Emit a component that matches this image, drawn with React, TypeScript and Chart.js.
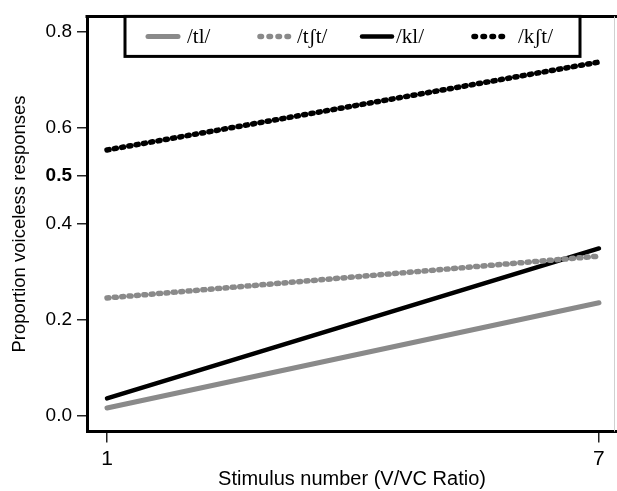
import { useEffect, useRef } from "react";
import { Chart, registerables } from "chart.js";

Chart.register(...registerables);

// ---- data ----
const stimuli = [1, 7];
const seriesNames = ["/tl/", "/tʃt/", "/kl/", "/kʃt/"];
const tlValues = [0.017, 0.236];
const tshtValues = [0.246, 0.333];
const klValues = [0.037, 0.349];
const kshtValues = [0.554, 0.737];
const yTickValues = [0, 0.2, 0.4, 0.5, 0.6, 0.8];
const xTickValues = [1, 7];
const boldTick = 0.5;

const GREY = "#8a8a8a";
const SANS = "'Liberation Sans', Arial, sans-serif";
const SERIF = "'Liberation Serif', 'DejaVu Serif', serif";

const seriesStyles = [
  { color: GREY, dash: [] as number[], width: 5 },
  { color: GREY, dash: [2, 5.4], width: 5.5 },
  { color: "#000", dash: [] as number[], width: 4.5 },
  { color: "#000", dash: [2, 5.4], width: 5.5 },
];
const seriesValues = [tlValues, tshtValues, klValues, kshtValues];

const framePlugin = {
  id: "frameAndLegend",
  afterDatasetsDraw(chart: any) {
    const { ctx, chartArea } = chart;
    ctx.save();
    // top border of the box
    ctx.strokeStyle = "#000";
    ctx.lineWidth = 3;
    ctx.beginPath();
    ctx.moveTo(chartArea.left - 1.5, chartArea.top);
    ctx.lineTo(chart.width, chartArea.top);
    ctx.stroke();
    // faint right edge
    ctx.strokeStyle = "#d0d0d0";
    ctx.lineWidth = 1;
    ctx.beginPath();
    ctx.moveTo(614.5, chartArea.top);
    ctx.lineTo(614.5, chartArea.bottom);
    ctx.stroke();

    // legend box
    const lx = 125, ly = chartArea.top, lw = 455, lh = 40;
    ctx.fillStyle = "#fff";
    ctx.fillRect(lx, ly, lw, lh);
    ctx.strokeStyle = "#000";
    ctx.lineWidth = 3;
    ctx.strokeRect(lx, ly, lw, lh);

    const sampleStarts = [146, 258, 360, 472];
    const textStarts = [187, 297, 396, 518];
    const sampleLen = 34;
    const cy = ly + lh / 2;
    ctx.font = `21px ${SERIF}`;
    ctx.textBaseline = "middle";
    ctx.textAlign = "left";
    seriesNames.forEach((name, i) => {
      const st = seriesStyles[i];
      ctx.strokeStyle = st.color;
      ctx.lineWidth = st.width;
      ctx.lineCap = "round";
      ctx.setLineDash(st.dash.length ? [1.5, 7.5] : []);
      ctx.beginPath();
      ctx.moveTo(sampleStarts[i] + 2, cy);
      ctx.lineTo(sampleStarts[i] + sampleLen - 2, cy);
      ctx.stroke();
      ctx.setLineDash([]);
      ctx.fillStyle = "#000";
      ctx.fillText(name, textStarts[i], cy + 1);
    });
    ctx.restore();
  },
};

export default function App() {
  const ref = useRef<HTMLCanvasElement | null>(null);

  useEffect(() => {
    if (!ref.current) return;
    const chart = new Chart(ref.current, {
      type: "line",
      data: {
        datasets: seriesNames.map((name, i) => ({
          label: name,
          data: stimuli.map((s, j) => ({ x: s, y: seriesValues[i][j] })),
          borderColor: seriesStyles[i].color,
          borderWidth: seriesStyles[i].width,
          borderDash: seriesStyles[i].dash,
          borderCapStyle: "round" as const,
          pointRadius: 0,
          fill: false,
          tension: 0,
        })),
      },
      options: {
        animation: false,
        responsive: false,
        maintainAspectRatio: false,
        layout: { padding: { top: 13.5, left: 0, right: 0, bottom: 0 } },
        plugins: { legend: { display: false }, tooltip: { enabled: false } },
        scales: {
          x: {
            type: "linear",
            min: 0.756,
            max: 7.22,
            afterBuildTicks: (scale: any) => {
              scale.ticks = xTickValues.map((v) => ({ value: v }));
            },
            afterFit: (scale: any) => {
              scale.height = 59.5;
            },
            grid: {
              drawOnChartArea: false,
              drawTicks: true,
              tickLength: 11,
              tickColor: "#222",
              lineWidth: 1.5,
            },
            border: { display: true, color: "#000", width: 3 },
            ticks: {
              color: "#000",
              font: { family: SANS, size: 21 },
              padding: 4,
              maxRotation: 0,
              callback: (v: any) => String(v),
            },
            title: {
              display: true,
              text: "Stimulus number (V/VC Ratio)",
              color: "#000",
              font: { family: SANS, size: 20 },
              padding: { top: 0, bottom: 0 },
            },
          },
          y: {
            type: "linear",
            min: -0.032,
            max: 0.832,
            afterBuildTicks: (scale: any) => {
              scale.ticks = yTickValues.map((v) => ({ value: v }));
            },
            afterFit: (scale: any) => {
              scale.width = 87;
            },
            grid: {
              drawOnChartArea: false,
              drawTicks: true,
              tickLength: 10,
              tickColor: "#222",
              lineWidth: 1.5,
            },
            border: { display: true, color: "#000", width: 3 },
            ticks: {
              color: "#000",
              padding: 5,
              font: (c: any) => ({
                family: SANS,
                size: 19,
                weight: c.tick && c.tick.value === boldTick ? "bold" : "normal",
              }),
              callback: (v: any) => Number(v).toFixed(1),
            },
            title: {
              display: true,
              text: "Proportion voiceless responses",
              color: "#000",
              font: { family: SANS, size: 18.5 },
              padding: { top: 9, bottom: 0 },
            },
          },
        },
      },
      plugins: [framePlugin],
    } as any);
    return () => chart.destroy();
  }, []);

  return (
    <div style={{ position: "absolute", left: 0, top: 0, width: 617, height: 491, background: "#fff" }}>
      <canvas ref={ref} width={617} height={491} style={{ width: 617, height: 491, display: "block" }} />
    </div>
  );
}
